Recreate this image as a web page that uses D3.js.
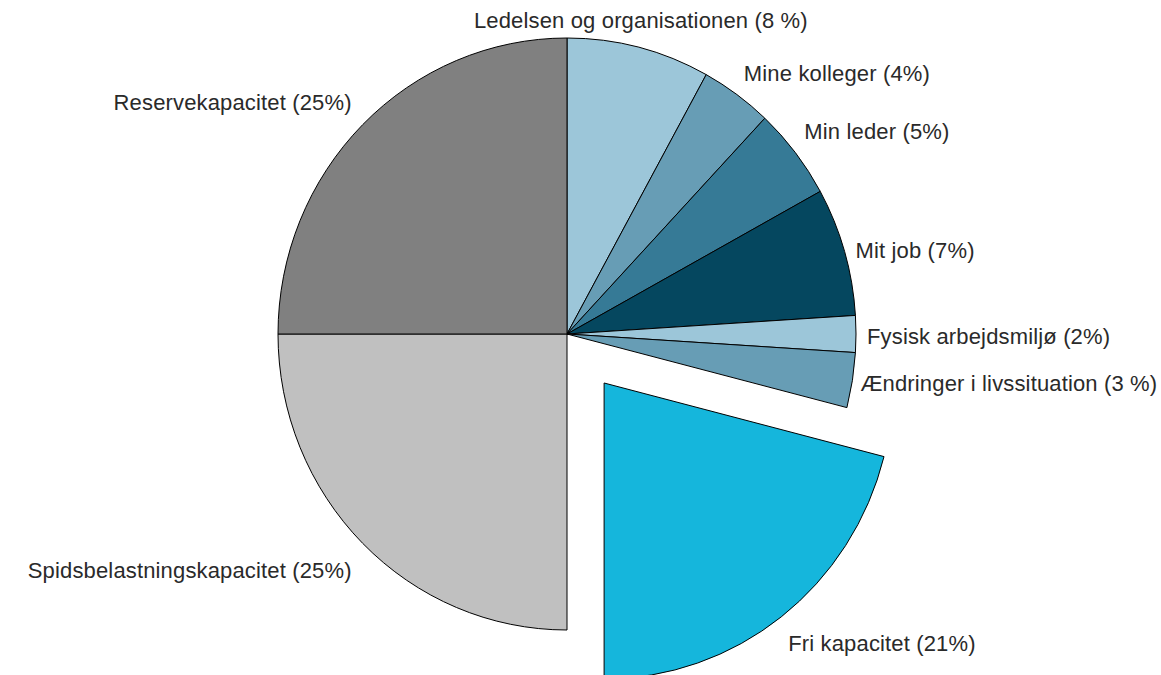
<!DOCTYPE html>
<html lang="da">
<head>
    <meta charset="UTF-8">
    <title>Kapacitet</title>
    <style>
        html, body { margin: 0; padding: 0; background: #fff; }
        svg { display: block; }
        .label { font-family: "Liberation Sans", Arial, sans-serif; font-size: 22px; letter-spacing: 0.15px; fill: #2a2a2a; }
    </style>
</head>
<body>
    <div id="chart"></div>
    <script src="https://d3js.org/d3.v7.min.js"></script>
    <script>
        // data
        const categories = [
            "Ledelsen og organisationen", "Mine kolleger", "Min leder", "Mit job",
            "Fysisk arbejdsmiljø", "Ændringer i livssituation", "Fri kapacitet",
            "Spidsbelastningskapacitet", "Reservekapacitet"
        ];
        const values = [8, 4, 5, 7, 2, 3, 21, 25, 25];
        const labelText = [
            "Ledelsen og organisationen (8 %)", "Mine kolleger (4%)", "Min leder (5%)", "Mit job (7%)",
            "Fysisk arbejdsmiljø (2%)", "Ændringer i livssituation (3 %)", "Fri kapacitet (21%)",
            "Spidsbelastningskapacitet (25%)", "Reservekapacitet (25%)"
        ];
        const colors = ["#9cc6d9", "#679db5", "#367a96", "#05475f", "#9cc6d9", "#679db5", "#15b6dc", "#c0c0c0", "#808080"];
        const exploded = ["Fri kapacitet"];

        // layout
        const width = 1161, height = 675;
        const cx = 567, cy = 334;
        const r = 296;
        const xStretch = 289 / 296;
        const explodeDist = 62;
        // small nudges so labels sit like in the original (dx, dy)
        const labelNudge = [[2, -27], [7, -21], [9, -21], [11, -1], [11, 2], [8, 3], [7, 26], [-11, 27], [-11, -22]];

        const svg = d3.select("#chart").append("svg")
            .attr("width", width)
            .attr("height", height);

        const pie = d3.pie().sort(null).value(d => d.value);
        const arcs = pie(categories.map((c, i) => ({ name: c, value: values[i], i })));
        const arc = d3.arc().innerRadius(0).outerRadius(r);

        const offsetOf = d => {
            if (!exploded.includes(d.data.name)) return [0, 0];
            const a = (d.startAngle + d.endAngle) / 2;
            return [Math.sin(a) * explodeDist, -Math.cos(a) * explodeDist];
        };

        const g = svg.append("g")
            .attr("transform", `translate(${cx},${cy}) scale(${xStretch},1)`);

        g.selectAll("path")
            .data(arcs)
            .join("path")
            .attr("transform", d => `translate(${offsetOf(d)})`)
            .attr("d", arc)
            .attr("fill", d => colors[d.data.i])
            .attr("stroke", "#000")
            .attr("stroke-width", 1)
            .attr("vector-effect", "non-scaling-stroke")
            .attr("stroke-linejoin", "round");

        svg.selectAll("text.label")
            .data(arcs)
            .join("text")
            .attr("class", "label")
            .each(function(d) {
                const a = (d.startAngle + d.endAngle) / 2;
                const [ox, oy] = offsetOf(d);
                const px = cx + (ox + Math.sin(a) * r) * xStretch;
                const py = cy + oy - Math.cos(a) * r;
                const n = labelNudge[d.data.i];
                const s = Math.sin(a);
                const anchor = Math.abs(s) < 0.3 ? "middle" : (s > 0 ? "start" : "end");
                d3.select(this)
                    .attr("x", px + n[0])
                    .attr("y", py + n[1])
                    .attr("dy", "0.35em")
                    .attr("text-anchor", anchor)
                    .text(labelText[d.data.i]);
            });
    </script>
</body>
</html>
